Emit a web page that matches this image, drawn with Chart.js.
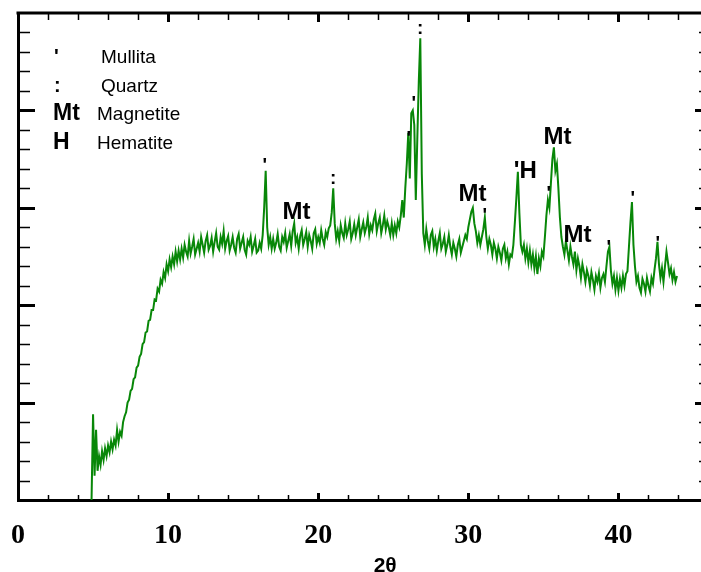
<!DOCTYPE html>
<html>
<head>
<meta charset="utf-8">
<title>XRD pattern</title>
<script src="https://cdn.jsdelivr.net/npm/chart.js@4.4.1/dist/chart.umd.min.js"></script>
<style>
  html, body { margin: 0; padding: 0; background: #fff; }
  canvas { display: block; }
</style>
</head>
<body>
<canvas id="xrdCanvas" width="701" height="572"></canvas>
<script>
// Scan: 2θ from 4.9° in 0.1° steps, intensity (arb. units, 0-5)
const scanStart = 4.9;
const scanStep = 0.1;
const intensity = [
    0.00,
    0.88, 0.25, 0.72, 0.30, 0.45, 0.36, 0.50, 0.41, 0.53, 0.45, // 5
    0.56, 0.49, 0.60, 0.52, 0.62, 0.56, 0.72, 0.60, 0.70, 0.66, // 6
    0.80, 0.86, 0.90, 1.00, 1.03, 1.12, 1.14, 1.24, 1.26, 1.36, // 7
    1.38, 1.47, 1.50, 1.60, 1.62, 1.72, 1.73, 1.84, 1.85, 1.95, // 8
    1.95, 2.06, 2.05, 2.17, 2.14, 2.26, 2.22, 2.34, 2.28, 2.42, // 9
    2.35, 2.47, 2.39, 2.50, 2.42, 2.55, 2.45, 2.56, 2.47, 2.58, // 10
    2.49, 2.62, 2.55, 2.50, 2.66, 2.53, 2.60, 2.68, 2.52, 2.58, // 11
    2.64, 2.55, 2.70, 2.62, 2.54, 2.66, 2.72, 2.57, 2.61, 2.69, // 12
    2.55, 2.65, 2.74, 2.60, 2.57, 2.70, 2.63, 2.76, 2.58, 2.66, // 13
    2.71, 2.56, 2.62, 2.70, 2.59, 2.54, 2.68, 2.73, 2.58, 2.64, // 14
    2.70, 2.57, 2.52, 2.66, 2.62, 2.70, 2.55, 2.61, 2.68, 2.54, // 15
    2.56, 2.64, 2.58, 2.72, 3.00, 3.38, 2.80, 2.62, 2.70, 2.58, // 16
    2.68, 2.58, 2.64, 2.73, 2.60, 2.56, 2.70, 2.65, 2.74, 2.59, // 17
    2.66, 2.73, 2.61, 2.76, 2.84, 2.64, 2.70, 2.58, 2.71, 2.77, // 18
    2.62, 2.68, 2.75, 2.60, 2.72, 2.66, 2.58, 2.74, 2.78, 2.63, // 19
    2.70, 2.64, 2.77, 2.68, 2.62, 2.75, 2.70, 2.79, 2.82, 2.95, // 20
    3.20, 2.84, 2.68, 2.76, 2.66, 2.82, 2.74, 2.69, 2.84, 2.72, // 21
    2.78, 2.86, 2.68, 2.74, 2.83, 2.72, 2.80, 2.88, 2.70, 2.78, // 22
    2.85, 2.74, 2.80, 2.90, 2.73, 2.82, 2.77, 2.88, 2.94, 2.76, // 23
    2.84, 2.90, 2.74, 2.82, 2.92, 2.78, 2.86, 2.80, 2.72, 2.84, // 24
    2.72, 2.82, 2.74, 2.86, 2.80, 2.92, 3.08, 2.90, 3.20, 3.45, // 25
    3.77, 3.30, 3.97, 4.00, 3.85, 3.08, 3.70, 4.30, 4.74, 3.35, // 26
    2.74, 2.62, 2.78, 2.66, 2.58, 2.72, 2.76, 2.60, 2.68, 2.56, // 27
    2.66, 2.74, 2.58, 2.63, 2.70, 2.55, 2.62, 2.72, 2.60, 2.52, // 28
    2.64, 2.58, 2.50, 2.62, 2.68, 2.54, 2.60, 2.66, 2.72, 2.68, // 29
    2.80, 2.88, 2.96, 3.00, 2.84, 2.76, 2.64, 2.72, 2.62, 2.70, // 30
    2.78, 2.90, 2.70, 2.58, 2.68, 2.62, 2.52, 2.64, 2.58, 2.48, // 31
    2.60, 2.54, 2.46, 2.58, 2.62, 2.48, 2.55, 2.42, 2.52, 2.50, // 32
    2.62, 2.85, 3.10, 3.37, 2.95, 2.62, 2.55, 2.62, 2.48, 2.58, // 33
    2.44, 2.56, 2.42, 2.52, 2.38, 2.50, 2.32, 2.48, 2.40, 2.55, // 34
    2.50, 2.70, 2.92, 3.08, 3.00, 3.25, 3.50, 3.62, 3.38, 3.45, // 35
    3.20, 2.90, 2.70, 2.60, 2.52, 2.66, 2.56, 2.46, 2.60, 2.50, // 36
    2.42, 2.55, 2.36, 2.48, 2.40, 2.28, 2.42, 2.34, 2.24, 2.36, // 37
    2.30, 2.20, 2.34, 2.26, 2.16, 2.30, 2.24, 2.33, 2.18, 2.28, // 38
    2.32, 2.24, 2.40, 2.55, 2.60, 2.35, 2.22, 2.30, 2.16, 2.28, // 39
    2.15, 2.27, 2.18, 2.30, 2.20, 2.32, 2.35, 2.60, 2.85, 3.06, // 40
    2.62, 2.40, 2.24, 2.30, 2.18, 2.13, 2.27, 2.22, 2.14, 2.28, // 41
    2.20, 2.14, 2.28, 2.22, 2.36, 2.48, 2.65, 2.42, 2.28, 2.38, // 42
    2.24, 2.40, 2.55, 2.44, 2.32, 2.38, 2.26, 2.34, 2.24, 2.30  // 43
];

// Phase key
const phaseSymbols = ["'", ':', 'Mt', 'H'];
const phaseNames = ['Mullita', 'Quartz', 'Magnetite', 'Hematite'];

// Peak tags: text, 2θ and height where the tag sits
const peakTags = ["'", ':', 'Mt', "'", "'", ':', 'Mt', "'", "'H", "'", 'Mt', 'Mt', "'", "'", "'"];
const peakAngles = [16.46, 20.99, 18.59, 26.05, 26.38, 26.78, 30.31, 31.11, 33.78, 35.38, 35.98, 37.31, 39.37, 40.97, 42.64];
const peakTagLevels = [3.49, 3.30, 2.97, 3.76, 4.12, 4.84, 3.16, 2.97, 3.39, 3.20, 3.74, 2.74, 2.64, 3.15, 2.68];

const axisTitle = '2θ';

document.addEventListener('DOMContentLoaded', () => {
    initializeChart();
});

// draw text so that its ink box is centred on (cx, cy)
function inkText(ctx, text, cx, cy) {
    const m = ctx.measureText(text);
    const w = m.actualBoundingBoxLeft + m.actualBoundingBoxRight;
    const h = m.actualBoundingBoxAscent + m.actualBoundingBoxDescent;
    ctx.fillText(text, cx - w / 2 + m.actualBoundingBoxLeft, cy + h / 2 - m.actualBoundingBoxDescent);
}

// frame, inward ticks, key, peak tags and axis title
const xrdDecor = {
    id: 'xrdDecor',
    afterDraw(chart) {
        const { ctx, chartArea: a } = chart;
        const x = chart.scales.x;
        const y = chart.scales.y;
        ctx.save();
        ctx.strokeStyle = '#000';
        ctx.fillStyle = '#000';

        ctx.lineWidth = 3;
        ctx.beginPath();
        ctx.moveTo(a.left - 1.5, a.top);
        ctx.lineTo(a.right, a.top);
        ctx.stroke();

        // 2θ ticks every 2°, long ones every 10°
        for (let v = 2; v <= x.max; v += 2) {
            const px = Math.round(x.getPixelForValue(v)) + 0.5;
            const major = v % 10 === 0;
            ctx.lineWidth = major ? 3 : 1.5;
            ctx.beginPath();
            ctx.moveTo(px, a.bottom);
            ctx.lineTo(px, a.bottom - (major ? 7 : 5));
            ctx.moveTo(px, a.top);
            ctx.lineTo(px, a.top + (major ? 9 : 7));
            ctx.stroke();
        }
        // intensity ticks
        for (let i = 1; i < 25; i++) {
            const py = Math.round(y.getPixelForValue(i * 0.2)) + 0.5;
            const major = i % 5 === 0;
            ctx.lineWidth = major ? 3 : 1.5;
            ctx.beginPath();
            ctx.moveTo(a.left, py);
            ctx.lineTo(a.left + (major ? 17 : 12), py);
            ctx.moveTo(a.right, py);
            ctx.lineTo(a.right - (major ? 6 : 2), py);
            ctx.stroke();
        }

        // key
        ctx.textAlign = 'left';
        ctx.textBaseline = 'alphabetic';
        const rows = [63, 92, 120, 149];
        const nameX = [101, 101, 97, 97];
        phaseSymbols.forEach((s, i) => {
            ctx.font = s.length > 1 || s === 'H' ? 'bold 23px "Liberation Sans", Arial, sans-serif'
                                                 : 'bold 20px "Liberation Sans", Arial, sans-serif';
            ctx.fillText(s, s === 'Mt' || s === 'H' ? 53 : 54, rows[i]);
            ctx.font = '19px "Liberation Sans", Arial, sans-serif';
            ctx.fillText(phaseNames[i], nameX[i], rows[i]);
        });

        // peak tags
        peakTags.forEach((t, i) => {
            ctx.font = t.length > 1 ? 'bold 24px "Liberation Sans", Arial, sans-serif'
                                    : 'bold 19px "Liberation Sans", Arial, sans-serif';
            inkText(ctx, t, x.getPixelForValue(peakAngles[i]), y.getPixelForValue(peakTagLevels[i]));
        });

        ctx.font = 'bold 21px "Liberation Sans", Arial, sans-serif';
        inkText(ctx, axisTitle, 385, 564);
        ctx.restore();
    }
};

function initializeChart() {
    const canvas = document.getElementById('xrdCanvas');
    if (!canvas) {
        console.error('Canvas element not found');
        return;
    }
    const points = intensity.map((v, i) => ({ x: +(scanStart + i * scanStep).toFixed(1), y: v }));

    try {
        new Chart(canvas.getContext('2d'), {
            type: 'line',
            data: {
                datasets: [{
                    label: 'XRD',
                    data: points,
                    borderColor: '#088708',
                    borderWidth: 2,
                    pointRadius: 0,
                    tension: 0,
                    fill: false
                }]
            },
            options: {
                responsive: false,
                animation: false,
                devicePixelRatio: 1,
                layout: { padding: { top: 13, right: 0, left: 0, bottom: 0 } },
                scales: {
                    x: {
                        type: 'linear',
                        min: 0,
                        max: 45.5,
                        afterFit: (s) => {
                            s.height = 72;
                            s.paddingLeft = 0;
                            s.paddingRight = 0;
                        },
                        grid: { display: false, drawTicks: false },
                        border: { display: true, color: '#000', width: 3 },
                        ticks: {
                            stepSize: 10,
                            includeBounds: false,
                            padding: 19,
                            color: '#000',
                            font: { family: '"Liberation Serif", "Times New Roman", serif', size: 28, weight: 'bold' }
                        }
                    },
                    y: {
                        min: 0,
                        max: 5,
                        afterFit: (s) => { s.width = 18; },
                        grid: { display: false, drawTicks: false },
                        border: { display: true, color: '#000', width: 3 },
                        ticks: { display: false }
                    }
                },
                plugins: {
                    legend: { display: false },
                    tooltip: { enabled: false }
                }
            },
            plugins: [xrdDecor]
        });
    } catch (error) {
        console.error('Error initializing chart:', error);
    }
}
</script>
</body>
</html>
